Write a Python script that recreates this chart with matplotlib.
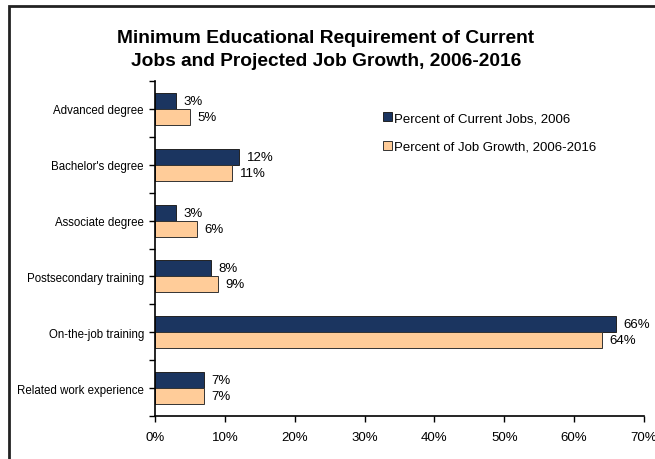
import numpy as np
import matplotlib
matplotlib.use('Agg')
from matplotlib import pyplot as plt
from matplotlib.patches import Rectangle

plt.rcParams['font.family'] = ['Liberation Sans', 'DejaVu Sans']

# data
categories = ['Advanced degree', "Bachelor's degree", 'Associate degree',
              'Postsecondary training', 'On-the-job training', 'Related work experience']
current_jobs = [3, 12, 3, 8, 66, 7]
job_growth = [5, 11, 6, 9, 64, 7]
series_names = ['Percent of Current Jobs, 2006', 'Percent of Job Growth, 2006-2016']
xticks = [0, 10, 20, 30, 40, 50, 60, 70]

navy = '#1B3560'
peach = '#FFCC99'

fig = plt.figure(figsize=(6.55, 4.6), dpi=100)
ax = fig.add_axes([155/655, 1-417/460, (644-155)/655, (417-82)/460])

y = np.arange(len(categories))
h = 0.286
ax.barh(y - h/2, current_jobs, height=h, color=navy, edgecolor='#222222', linewidth=0.7,
        label=series_names[0])
ax.barh(y + h/2, job_growth, height=h, color=peach, edgecolor='#333333', linewidth=0.7,
        label=series_names[1])

# value labels
for yy, v in zip(y, current_jobs):
    ax.text(v + 1.1, yy - h/2, f'{v}%', va='center', ha='left', fontsize=9.5)
for yy, v in zip(y, job_growth):
    ax.text(v + 1.1, yy + h/2, f'{v}%', va='center', ha='left', fontsize=9.5)

ax.set_ylim(len(categories) - 0.5, -0.5)
ax.set_xlim(0, 70)
ax.set_yticks(y)
ax.set_yticklabels(categories, fontsize=8.3)
ax.set_yticks(np.arange(-0.5, len(categories)), minor=True)
ax.tick_params(axis='y', which='both', direction='out', length=4, width=1, pad=4)
ax.set_xticks(xticks)
ax.set_xticklabels([f'{t}%' for t in xticks], fontsize=9.5)
ax.tick_params(axis='x', direction='out', length=4, width=1, pad=7)

for s in ['top', 'right']:
    ax.spines[s].set_visible(False)
ax.spines['left'].set_linewidth(1.2)
ax.spines['bottom'].set_linewidth(1.2)

ax.legend(loc='upper left', bbox_to_anchor=((378-155)/(644-155), 1-(108-82)/(417-82)),
          frameon=False, fontsize=9.5, handlelength=0.65, handleheight=0.65,
          handletextpad=0.2, labelspacing=1.25, borderaxespad=0)

fig.text(326/655, 1-50/460, 'Minimum Educational Requirement of Current\nJobs and Projected Job Growth, 2006-2016',
         ha='center', va='center', fontsize=13.8, fontweight='bold', linespacing=1.45)

# outer frame
fig.patches.append(Rectangle((9/655, -0.1), 1.1, 1 - 7/460 + 0.1, transform=fig.transFigure,
                             fill=False, edgecolor='#222222', linewidth=2))

fig.savefig('out.png', dpi=100)
